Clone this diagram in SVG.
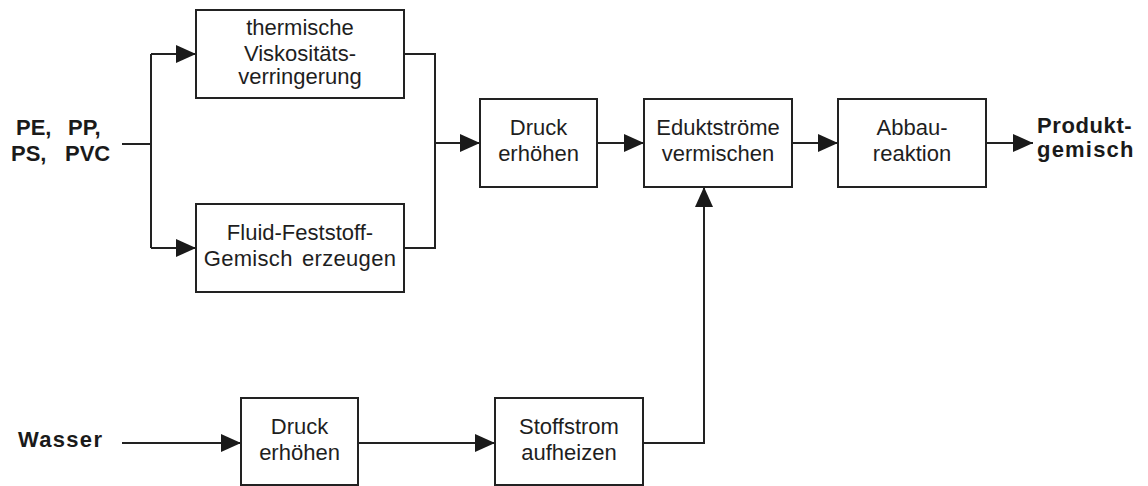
<svg xmlns="http://www.w3.org/2000/svg" width="1148" height="486" viewBox="0 0 1148 486">
<style>
.box{fill:#fff;stroke:#222;stroke-width:2}
.t{font-family:"Liberation Sans",Arial,sans-serif;font-size:22px;fill:#1e1e1e;text-anchor:middle}
.b{font-family:"Liberation Sans",Arial,sans-serif;font-size:22px;font-weight:bold;fill:#1a1a1a}
.c{fill:none;stroke:#222;stroke-width:2}
</style>
<defs>
<marker id="ah" markerWidth="20" markerHeight="18" refX="20" refY="9" orient="auto" markerUnits="userSpaceOnUse">
<path d="M0,0 L20,9 L0,18 Z" fill="#1a1a1a"/>
</marker>
</defs>
<rect width="1148" height="486" fill="#fff"/>
<g id="connectors">
<path class="c" d="M122,144 H151"/>
<path class="c" d="M151,54 V248"/>
<path class="c" d="M151,54 H196" marker-end="url(#ah)"/>
<path class="c" d="M151,248 H196" marker-end="url(#ah)"/>
<path class="c" d="M404,54 H435 V248 H404"/>
<path class="c" d="M435,143 H480" marker-end="url(#ah)"/>
<path class="c" d="M598,143 H644" marker-end="url(#ah)"/>
<path class="c" d="M792,143 H838" marker-end="url(#ah)"/>
<path class="c" d="M987,143 H1033" marker-end="url(#ah)"/>
<path class="c" d="M122,443 H241" marker-end="url(#ah)"/>
<path class="c" d="M358,443 H495" marker-end="url(#ah)"/>
<path class="c" d="M643,443 H704 V187" marker-end="url(#ah)"/>
</g>
<g id="input-plastics">
<text class="b" y="135"><tspan x="16">PE,</tspan><tspan x="68">PP,</tspan></text>
<text class="b" y="161"><tspan x="11">PS,</tspan><tspan x="65">PVC</tspan></text>
</g>
<g id="input-water">
<text class="b" x="18" y="447" style="letter-spacing:1.3px">Wasser</text>
</g>
<g id="output-product">
<text class="b" x="1037" y="133" style="letter-spacing:0.6px">Produkt-</text>
<text class="b" x="1037" y="157" style="letter-spacing:1.2px">gemisch</text>
</g>
<g id="node-viskositaet">
<rect class="box" x="196" y="10" width="208" height="88"/>
<text class="t" x="300" y="35">thermische</text>
<text class="t" x="300" y="61">Viskositäts-</text>
<text class="t" x="300" y="84">verringerung</text>
</g>
<g id="node-fluid">
<rect class="box" x="196" y="204" width="208" height="88"/>
<text class="t" x="300" y="240">Fluid-Feststoff-</text>
<text class="t" x="300" y="266" style="letter-spacing:0.3px;word-spacing:3px">Gemisch erzeugen</text>
</g>
<g id="node-druck1">
<rect class="box" x="480" y="99" width="117" height="88"/>
<text class="t" x="538.5" y="135">Druck</text>
<text class="t" x="538.5" y="161">erhöhen</text>
</g>
<g id="node-edukt">
<rect class="box" x="644" y="99" width="148" height="88"/>
<text class="t" x="718" y="135">Eduktströme</text>
<text class="t" x="718" y="161">vermischen</text>
</g>
<g id="node-abbau">
<rect class="box" x="838" y="99" width="148" height="88"/>
<text class="t" x="912" y="135">Abbau-</text>
<text class="t" x="912" y="161">reaktion</text>
</g>
<g id="node-druck2">
<rect class="box" x="241" y="398" width="117" height="87"/>
<text class="t" x="299.5" y="434">Druck</text>
<text class="t" x="299.5" y="460">erhöhen</text>
</g>
<g id="node-stoffstrom">
<rect class="box" x="495" y="398" width="148" height="87"/>
<text class="t" x="569" y="434">Stoffstrom</text>
<text class="t" x="569" y="460">aufheizen</text>
</g>
</svg>
